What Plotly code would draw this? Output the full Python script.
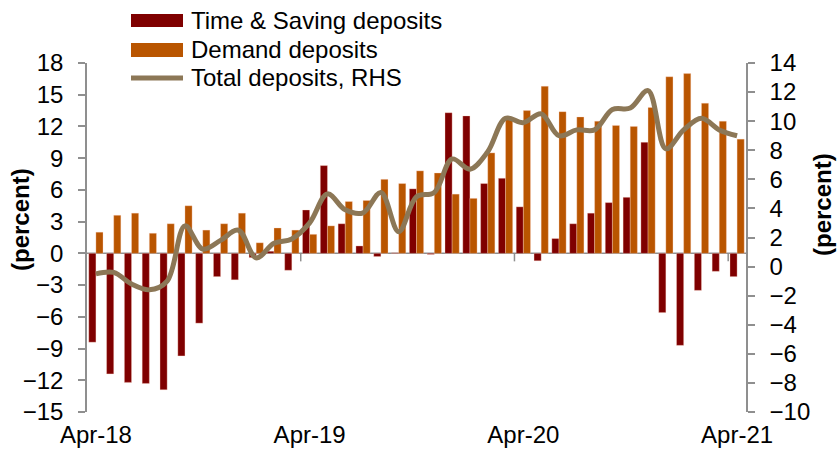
import plotly.graph_objects as go

# Monthly year-on-year growth, Apr-18 .. Apr-21 (percent)
months = [
    "Apr-18", "May-18", "Jun-18", "Jul-18", "Aug-18", "Sep-18", "Oct-18", "Nov-18", "Dec-18",
    "Jan-19", "Feb-19", "Mar-19", "Apr-19", "May-19", "Jun-19", "Jul-19", "Aug-19", "Sep-19",
    "Oct-19", "Nov-19", "Dec-19", "Jan-20", "Feb-20", "Mar-20", "Apr-20", "May-20", "Jun-20",
    "Jul-20", "Aug-20", "Sep-20", "Oct-20", "Nov-20", "Dec-20", "Jan-21", "Feb-21", "Mar-21",
    "Apr-21",
]
time_saving = [
    -8.4, -11.4, -12.2, -12.3, -12.9, -9.7, -6.6, -2.2, -2.5, -0.4, 0.2, -1.6, 4.1,
    8.3, 2.8, 0.7, -0.3, 0.05, 6.1, -0.1, 13.3, 13.0, 6.6, 7.1, 4.4, -0.7, 1.4,
    2.8, 3.8, 4.8, 5.3, 10.5, -5.6, -8.7, -3.5, -1.7, -2.2,
]
demand = [
    2.0, 3.6, 3.8, 1.9, 2.8, 4.5, 2.2, 2.8, 3.8, 1.0, 2.4, 2.2, 1.8,
    2.6, 4.9, 5.0, 7.0, 6.6, 7.8, 7.6, 5.6, 5.2, 9.5, 12.7, 13.5, 15.8, 13.4,
    12.9, 12.5, 12.1, 12.0, 13.8, 16.7, 17.0, 14.2, 12.5, 10.8,
]
total = [
    -0.5, -0.4, -1.2, -1.6, -1.0, 2.8, 1.2, 1.8, 2.5, 0.6, 1.6, 1.9, 3.0,
    5.0, 3.9, 3.7, 5.1, 2.4, 4.8, 5.1, 7.4, 6.7, 7.9, 10.2, 9.9, 10.5, 9.0,
    9.4, 9.4, 10.8, 10.9, 12.1, 8.1, 9.4, 10.2, 9.4, 9.0,
]
x_labels = ["Apr-18", "Apr-19", "Apr-20", "Apr-21"]
left_ticks = list(range(-15, 19, 3))
right_ticks = list(range(-10, 15, 2))

names = ["Time & Saving deposits", "Demand deposits", "Total deposits, RHS"]
c_ts, c_dd, c_tot = "#7F0000", "#B95500", "#8C7756"
axis_grey = "#8F8F8F"
FONT = "Arial, Liberation Sans, sans-serif"

W, H = 837, 462
ML, MR, MT, MB = 87, 91, 63, 50
PW, PH = W - ML - MR, H - MT - MB


def px(x):
    return (x - ML) / PW


def py(y):
    return (H - MB - y) / PH


fig = go.Figure()
edge = dict(color="rgba(255,215,200,0.55)", width=0.6)
fig.add_trace(go.Bar(x=months, y=time_saving, name=names[0], marker=dict(color=c_ts, line=edge)))
fig.add_trace(go.Bar(x=months, y=demand, name=names[1], marker=dict(color=c_dd, line=edge)))
fig.add_trace(go.Scatter(x=months, y=total, name=names[2], yaxis="y2", mode="lines",
                         line=dict(color=c_tot, width=5, shape="spline", smoothing=1.0)))

shapes = []
# horizontal category axis at zero with tick marks between years
shapes.append(dict(type="line", xref="x", yref="y", x0=-0.5, x1=len(months) - 0.5, y0=0, y1=0,
                   line=dict(color=axis_grey, width=1.5), layer="below"))
for b in [11.5, 23.5, 35.5]:
    shapes.append(dict(type="line", xref="x", yref="y", ysizemode="pixel", yanchor=0,
                       x0=b, x1=b, y0=0, y1=-8, line=dict(color=axis_grey, width=1.5), layer="below"))

# legend
shapes.append(dict(type="rect", xref="paper", yref="paper", x0=px(131), x1=px(183), y0=py(27), y1=py(14),
                   fillcolor=c_ts, line=dict(width=0)))
shapes.append(dict(type="rect", xref="paper", yref="paper", x0=px(131), x1=px(183), y0=py(57), y1=py(43),
                   fillcolor=c_dd, line=dict(width=0)))
shapes.append(dict(type="line", xref="paper", yref="paper", x0=px(131), x1=px(183), y0=py(78), y1=py(78),
                   line=dict(color=c_tot, width=5)))

annotations = []
for name, yy in zip(names, [20, 49, 77]):
    annotations.append(dict(text=name, xref="paper", yref="paper", x=px(189), y=py(yy),
                            xanchor="left", yanchor="middle", showarrow=False,
                            font=dict(size=24, color="black", family=FONT)))
annotations.append(dict(text="<b>(percent)</b>", xref="paper", yref="paper", x=px(20), y=py(220),
                        textangle=-90, xanchor="center", yanchor="middle", showarrow=False,
                        font=dict(size=24, color="black", family=FONT)))
annotations.append(dict(text="<b>(percent)</b>", xref="paper", yref="paper", x=px(822), y=py(205),
                        textangle=-90, xanchor="center", yanchor="middle", showarrow=False,
                        font=dict(size=24, color="black", family=FONT)))

fig.update_layout(
    width=W, height=H,
    margin=dict(l=ML, r=MR, t=MT, b=MB, pad=0),
    paper_bgcolor="white", plot_bgcolor="white",
    font=dict(family=FONT, size=24, color="black"),
    barmode="group", bargap=0.2, bargroupgap=0,
    showlegend=False,
    shapes=shapes, annotations=annotations,
    xaxis=dict(type="category", range=[-0.5, len(months) - 0.5], tickvals=x_labels, ticktext=x_labels,
               showline=False, showgrid=False, zeroline=False, ticks="",
               tickfont=dict(size=24), ticklabelstandoff=6),
    yaxis=dict(range=[-15, 18], tickvals=left_ticks, showgrid=False, zeroline=False,
               showline=True, linecolor=axis_grey, linewidth=1.5,
               ticks="outside", ticklen=7, tickcolor=axis_grey, tickwidth=1.5,
               tickfont=dict(size=24), ticklabelstandoff=10),
    yaxis2=dict(range=[-10, 14], tickvals=right_ticks, overlaying="y", side="right", showgrid=False,
                zeroline=False, showline=True, linecolor=axis_grey, linewidth=1.5,
                ticks="outside", ticklen=7, tickcolor=axis_grey, tickwidth=1.5,
                tickfont=dict(size=24), ticklabelstandoff=10),
)

fig.write_html("out.html")
